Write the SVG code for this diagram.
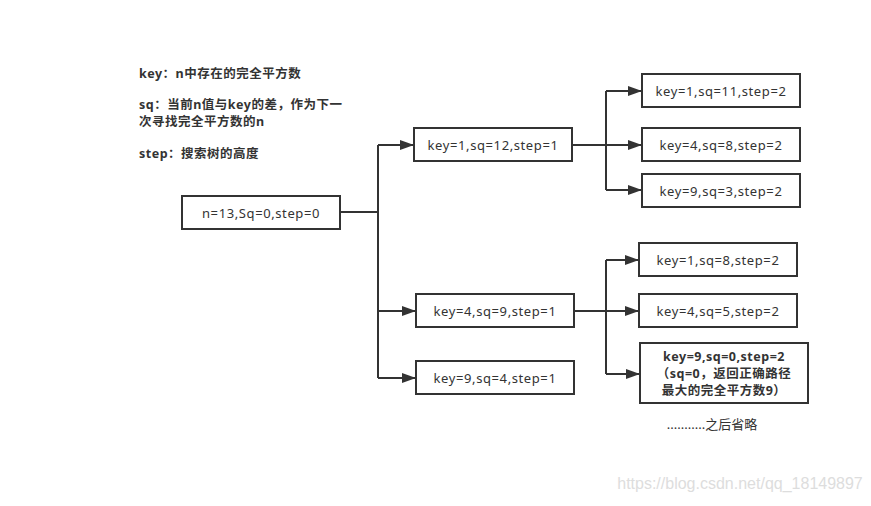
<svg xmlns="http://www.w3.org/2000/svg" width="871" height="506" viewBox="0 0 871 506">
<style>
.box{fill:#fff;stroke:#333;stroke-width:2}
.t{font-family:"Noto Sans","Noto Sans CJK SC",sans-serif;font-size:13px;letter-spacing:0.6px;fill:#333;text-anchor:middle;dominant-baseline:central}
.b{font-weight:bold;font-size:12.5px;letter-spacing:0.5px}
.leg{font-family:"Noto Sans","Noto Sans CJK SC",sans-serif;font-size:12.5px;letter-spacing:0.5px;font-weight:bold;fill:#333}
.c{fill:none;stroke:#333;stroke-width:2}
</style>
<defs>
<marker id="ah" markerWidth="14" markerHeight="10" refX="14" refY="5" orient="auto" markerUnits="userSpaceOnUse">
<path d="M0,0 L14,5 L0,10 Z" fill="#333"/>
</marker>
</defs>
<rect width="871" height="506" fill="#fff"/>
<g id="legend">
<text class="leg" x="139" y="78">key：n中存在的完全平方数</text>
<text class="leg" x="139" y="109">sq：当前n值与key的差，作为下一</text>
<text class="leg" x="139" y="126">次寻找完全平方数的n</text>
<text class="leg" x="139" y="158">step：搜索树的高度</text>
</g>
<g id="connectors">
<path class="c" d="M340,212 H378"/>
<path class="c" d="M378,145 V378"/>
<path class="c" d="M378,145 H414" marker-end="url(#ah)"/>
<path class="c" d="M378,311 H416" marker-end="url(#ah)"/>
<path class="c" d="M378,378 H416" marker-end="url(#ah)"/>
<path class="c" d="M572,145 H642" marker-end="url(#ah)"/>
<path class="c" d="M606,91 V190"/>
<path class="c" d="M606,91 H642" marker-end="url(#ah)"/>
<path class="c" d="M606,190 H642" marker-end="url(#ah)"/>
<path class="c" d="M574,311 H639" marker-end="url(#ah)"/>
<path class="c" d="M606,260 V374"/>
<path class="c" d="M606,260 H639" marker-end="url(#ah)"/>
<path class="c" d="M606,374 H640" marker-end="url(#ah)"/>
</g>
<g id="root"><rect class="box" x="182" y="196" width="158" height="33"/><text class="t" x="261" y="212.5">n=13,Sq=0,step=0</text></g>
<g id="n1"><rect class="box" x="414" y="128" width="158" height="33"/><text class="t" x="493" y="144.5">key=1,sq=12,step=1</text></g>
<g id="n4"><rect class="box" x="416" y="294" width="158" height="33"/><text class="t" x="495" y="310.5">key=4,sq=9,step=1</text></g>
<g id="n9"><rect class="box" x="416" y="361" width="158" height="33"/><text class="t" x="495" y="377.5">key=9,sq=4,step=1</text></g>
<g id="n1_1"><rect class="box" x="642" y="74" width="158" height="33"/><text class="t" x="721" y="90.5">key=1,sq=11,step=2</text></g>
<g id="n1_4"><rect class="box" x="642" y="128" width="158" height="33"/><text class="t" x="721" y="144.5">key=4,sq=8,step=2</text></g>
<g id="n1_9"><rect class="box" x="642" y="174" width="158" height="33"/><text class="t" x="721" y="190.5">key=9,sq=3,step=2</text></g>
<g id="n4_1"><rect class="box" x="639" y="243" width="158" height="33"/><text class="t" x="718" y="259.5">key=1,sq=8,step=2</text></g>
<g id="n4_4"><rect class="box" x="639" y="294" width="158" height="33"/><text class="t" x="718" y="310.5">key=4,sq=5,step=2</text></g>
<g id="n4_9"><rect class="box" x="640" y="343" width="168" height="60"/>
<text class="t b" x="724" y="356">key=9,sq=0,step=2</text>
<text class="t b" x="724" y="373">（sq=0，返回正确路径</text>
<text class="t b" x="724" y="390">最大的完全平方数9）</text></g>
<g id="note"><text class="t" x="712" y="424" style="letter-spacing:0">...........之后省略</text></g>
<text x="740" y="489" font-family="Liberation Sans, Arial, sans-serif" font-size="16" fill="#ddd" text-anchor="middle">https://blog.csdn.net/qq_18149897</text>
</svg>
